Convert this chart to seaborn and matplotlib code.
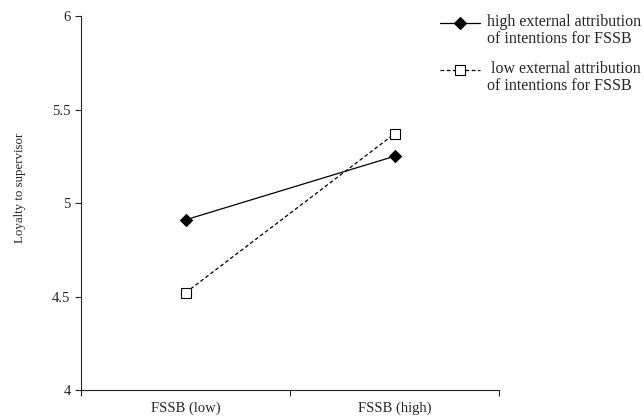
import matplotlib
matplotlib.use('Agg')
import matplotlib.pyplot as plt
import numpy as np
import pandas as pd
import seaborn as sns

# values
fssb_levels = ['FSSB (low)', 'FSSB (high)']
attribution_groups = ['high external attribution\nof intentions for FSSB',
                      ' low external attribution\nof intentions for FSSB']
loyalty_high_attr = [4.91, 5.25]
loyalty_low_attr = [4.52, 5.37]
y_ticks = [4, 4.5, 5, 5.5, 6]
y_tick_labels = ['4', '4.5', '5', '5.5', '6']

df = pd.DataFrame({
    'fssb': fssb_levels * 2,
    'group': [attribution_groups[0]] * 2 + [attribution_groups[1]] * 2,
    'loyalty': loyalty_high_attr + loyalty_low_attr,
})

sns.set_style('ticks')
plt.rcParams['font.family'] = ['Liberation Serif', 'DejaVu Serif']

fig = plt.figure(figsize=(6.44, 4.19), dpi=100)
ax = fig.add_axes([0.1258, 0.0692, 0.6492, 0.8926])

sns.pointplot(
    data=df, x='fssb', y='loyalty', hue='group', order=fssb_levels,
    hue_order=attribution_groups, palette=['black', 'black'],
    markers=['D', 's'], linestyles=['-', '--'], errorbar=None,
    ax=ax, legend=False,
)

lines = [ln for ln in ax.lines if len(ln.get_xdata()) == 2]
solid, dashed = lines[0], lines[1]
for ln in lines:
    ln.set_linewidth(0.9)
    ln.set_markeredgecolor('black')
    ln.set_markeredgewidth(0.8)
solid.set_markersize(6.5)
solid.set_markerfacecolor('black')
dashed.set_markersize(7.5)
dashed.set_markerfacecolor('white')
dashed.set_dashes([3, 2])

ax.set_xlim(-0.5, 1.5)
ax.set_ylim(4, 6)
ax.set_yticks(y_ticks)
ax.set_yticklabels(y_tick_labels, fontsize=10.5)
ax.set_xticks([-0.5, 0.5, 1.5])
ax.set_xticklabels([])
ax.set_xticks([0, 1], minor=True)
ax.set_xticklabels(fssb_levels, minor=True, fontsize=10.5)
ax.tick_params(axis='x', which='minor', length=0, pad=8)
ax.tick_params(axis='both', which='major', length=4, width=0.8, direction='out')
ax.set_xlabel('')
ax.set_ylabel('Loyalty to supervisor', fontsize=9.3, labelpad=19, y=0.54)
for side in ['left', 'bottom']:
    ax.spines[side].set_linewidth(0.8)
sns.despine(ax=ax)

leg = ax.legend(handles=[solid, dashed], labels=attribution_groups,
                loc='upper left', bbox_to_anchor=(0.843, 1.022), frameon=False,
                fontsize=11.5, handlelength=2.5, handletextpad=0.47,
                labelspacing=0.9, borderaxespad=0)
for txt in leg.get_texts():
    txt.set_linespacing(1.05)
# put the legend keys level with the first text line
for h in leg.legend_handles:
    h.set_ydata(np.asarray(h.get_ydata()) + 6)

fig.savefig('out.png', dpi=100)
